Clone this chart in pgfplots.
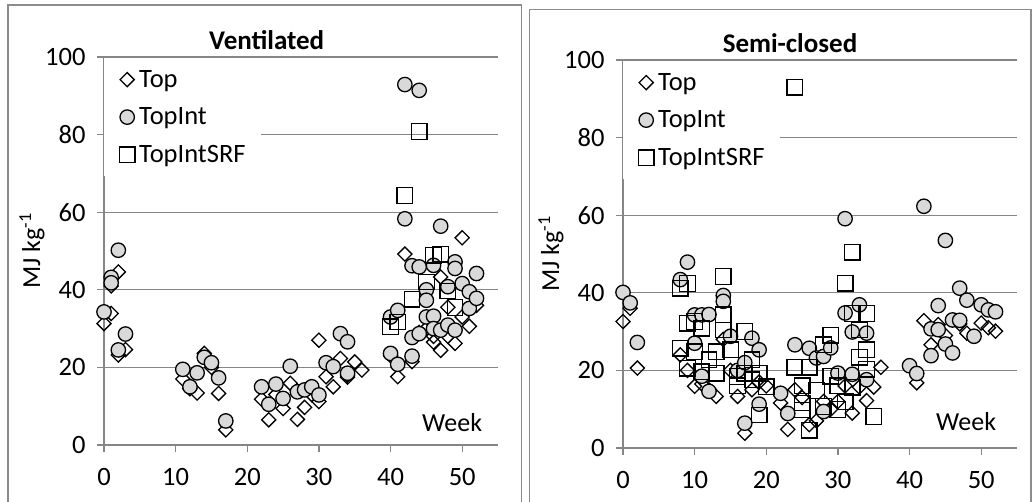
\documentclass[border=0pt]{standalone}
\usepackage{fontspec}
\setmainfont{Carlito}
\usepackage{pgfplots}
\pgfplotsset{compat=1.18}
\definecolor{gridgray}{RGB}{134,134,134}
\definecolor{boxgray}{RGB}{140,140,140}
\definecolor{circfill}{RGB}{217,217,217}

\pgfplotsset{
 panel/.style={
  scale only axis, width=394pt, height=388pt,
  xmin=0, xmax=55, ymin=0, ymax=100,
  axis lines*=left,
  axis line style={gridgray, line width=1.3pt},
  xtick={0,10,...,50}, ytick={0,20,...,100},
  tick align=outside, major tick length=7pt,
  tick style={gridgray, line width=1.3pt},
  ymajorgrids, grid style={gridgray, line width=1.3pt},
  ticklabel style={font=\fontsize{26.5}{30}\selectfont},
  yticklabel style={xshift=-8pt},
  xticklabel style={yshift=-13pt},
  /pgf/number format/assume math mode=true,
  clip=false,
  ylabel={MJ kg\textsuperscript{-1}},
  ylabel style={font=\fontsize{26}{30}\selectfont, at={(axis description cs:-0.183,0.5)}, anchor=center},
  legend style={at={(axis description cs:0,0.997)}, anchor=north west, draw=none, fill=white,
    font=\fontsize{26.5}{30}\selectfont, row sep=19pt, inner xsep=15pt, inner ysep=12pt,
    nodes={inner sep=0pt}},
  legend cell align=left,
  legend image code/.code={\path[draw=none,fill=none] (0pt,-1pt) rectangle (20pt,1pt); \draw plot coordinates {(8pt,0pt)};},
 },
 topst/.style={only marks, mark=square, mark size=5pt, mark options={rotate=45, draw=black, fill=white, line width=1.3pt}},
 intst/.style={only marks, mark=*, mark size=7.2pt, mark options={draw=black, fill=circfill, line width=1.3pt}},
 srfst/.style={only marks, mark=square, mark size=7.8pt, mark options={draw=black, fill=white, line width=1.3pt}},
}

\begin{document}
\begin{tikzpicture}
\useasboundingbox (0pt,0pt) rectangle (1035pt,502pt);
\draw[boxgray, line width=1.5pt] (8pt,-5pt) rectangle (521.5pt,497pt);
\draw[boxgray, line width=1.5pt] (529.5pt,-5pt) rectangle (1031pt,492.7pt);

% ---------------- Ventilated ----------------
\begin{axis}[panel, at={(104pt,57pt)}, anchor=south west]
\addplot[topst] coordinates {
(0,31.3) (1,33.9) (1,41.0) (2,44.6) (2,23.2) (3,24.6)
(11,17.0) (12,14.5) (13,13.4) (14,23.6) (15,20.0) (16,13.3) (17,3.9)
(22,11.8) (23,6.5) (24,13.0) (25,9.4) (26,15.9) (27,6.6) (28,9.7) (29,13.0)
(30,27.0) (30,11.2) (31,17.6) (32,15.0) (33,22.3) (34,18.0) (34,17.5) (35,21.4) (36,19.3)
(40,23.0) (41,17.6) (42,49.2) (43,21.5) (44,29.0) (45,30.0) (46,26.5) (46,28.0)
(47,24.4) (47,43.3) (48,35.5) (48,28.0) (49,26.2) (50,53.4) (50,33.0) (51,30.6) (52,36.0)
};
\addlegendentry{Top}
\addplot[intst] coordinates {
(0,34.3) (1,43.2) (1,41.8) (2,50.2) (2,24.5) (3,28.6)
(11,19.5) (12,15.0) (13,18.6) (14,22.6) (15,21.2) (16,17.3) (17,6.2)
(22,15.0) (23,10.5) (24,15.7) (25,12.0) (26,20.3) (27,13.7) (28,14.2) (29,15.0) (30,12.9)
(31,21.2) (32,20.2) (33,28.7) (34,26.6) (34,18.5)
(40,23.6) (40,33.0) (41,34.7) (41,20.8) (42,92.9) (42,58.3) (43,46.2) (43,27.7) (43,22.9)
(44,91.4) (44,45.9) (44,28.7) (45,40.0) (45,37.3) (45,33.0) (46,46.3) (46,33.2) (46,30.0)
(47,56.4) (47,29.6) (48,40.8) (48,30.9) (49,47.2) (49,45.5) (49,29.6) (50,41.6)
(51,39.5) (51,35.2) (52,44.2) (52,37.8)
};
\addlegendentry{TopInt}
\addplot[srfst] coordinates {
(40,30.5) (41,31.7) (42,64.3) (43,37.6) (44,80.8) (45,42.0) (46,48.9) (47,49.2) (48,39.7) (49,35.4)
};
\addlegendentry{TopIntSRF}
\node[font=\fontsize{26}{30}\selectfont] at (axis cs:48.6,5.9) {Week};
\end{axis}

% ---------------- Semi-closed ----------------
\begin{axis}[panel, at={(623pt,54pt)}, anchor=south west]
\addplot[topst] coordinates {
(0,32.6) (1,36.0) (2,20.6)
(8,24.0) (9,20.0) (10,15.9) (11,16.5) (12,15.0) (13,13.3) (14,28.0) (15,20.0) (16,13.3) (17,3.8) (18,15.0) (19,17.0) (20,16.0)
(22,11.6) (23,4.8) (24,15.0) (25,13.0) (26,6.0) (27,7.0) (28,12.0) (29,10.0) (30,12.0) (31,16.0) (32,9.0)
(33,15.7) (34,12.2) (35,15.7) (36,20.8)
(41,16.8) (42,32.8) (43,26.6) (44,31.8) (45,29.0) (46,33.0) (47,32.0) (48,29.6) (50,32.2) (51,31.0) (52,30.1)
};
\addlegendentry{Top}
\addplot[intst] coordinates {
(0,40.1) (1,37.4) (2,27.2) (8,43.4) (9,47.9) (10,34.3) (10,27.0) (11,34.3) (12,34.4) (11,18.5) (12,14.6)
(14,39.3) (14,37.8) (15,28.8) (16,20.0) (17,6.4) (18,28.3) (19,25.3) (19,11.3) (17,22.0)
(22,14.1) (23,8.9) (24,26.6) (26,25.7) (27,23.2) (28,9.4) (28,23.6) (29,25.8) (30,19.3)
(31,59.1) (31,34.8) (32,29.9) (33,36.9) (34,29.6) (34,17.6) (32,19.0)
(40,21.2) (41,19.2) (42,62.3) (43,30.7) (43,23.8) (44,36.7) (44,30.5) (45,53.5) (45,26.8)
(46,24.5) (46,33.0) (47,41.2) (47,32.9) (48,38.1) (49,28.8) (50,36.9) (51,35.6) (52,35.1)
};
\addlegendentry{TopInt}
\addplot[srfst] coordinates {
(8,41.2) (9,42.4) (14,44.2) (14,34.3) (14,30.4) (8,25.7) (9,32.2) (9,20.6) (10,24.8) (10,32.6)
(11,30.9) (11,19.6) (12,22.7) (13,24.8) (13,19.3) (15,25.3) (16,18.4) (16,16.0) (17,30.0) (17,19.3)
(18,22.7) (18,17.6) (19,19.3) (19,8.5) (20,15.8)
(24,93.0) (24,20.8) (25,16.0) (25,11.6) (25,9.8) (26,20.8) (26,4.6) (27,14.8) (28,26.6) (29,29.1)
(29,18.5) (28,10.7) (30,16.0) (30,9.9) (31,42.5) (31,11.9) (32,50.5) (32,34.7) (32,15.7)
(33,30.4) (33,23.4) (34,34.7) (34,25.3) (34,20.3) (35,8.1)
};
\addlegendentry{TopIntSRF}
\node[font=\fontsize{26}{30}\selectfont] at (axis cs:47.9,6.8) {Week};
\end{axis}

\node[font=\bfseries\fontsize{27}{31}\selectfont] at (266.7pt,462pt) {Ventilated};
\node[font=\bfseries\fontsize{27}{31}\selectfont] at (790pt,458.7pt) {Semi-closed};
\end{tikzpicture}
\end{document}
